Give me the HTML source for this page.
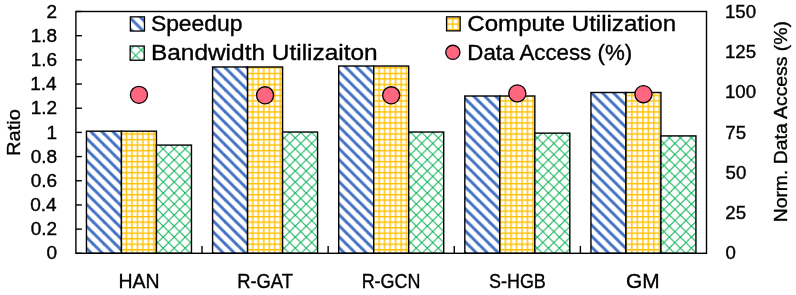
<!DOCTYPE html>
<html><head><meta charset="utf-8"><style>
html,body{margin:0;padding:0;background:#fff;}
body{width:796px;height:295px;overflow:hidden;}
svg{display:block;}
text{font-family:"Liberation Sans",sans-serif;fill:#000;stroke:#000;stroke-width:0.35px;}
svg{will-change:transform;}
</style></head><body>
<svg width="796" height="295" viewBox="0 0 796 295">
<defs><pattern id="pS" patternUnits="userSpaceOnUse" x="4.020" y="0.690" width="11.0064" height="11.0064"><rect width="11.0064" height="11.0064" fill="#fff"/><g fill="#4472C4"><polygon points="-14.457,-1.376 -10.307,-1.376 3.451,12.382 -0.699,12.382"/><polygon points="-3.451,-1.376 0.699,-1.376 14.457,12.382 10.307,12.382"/><polygon points="7.556,-1.376 11.706,-1.376 25.464,12.382 21.314,12.382"/></g></pattern>
<pattern id="pC" patternUnits="userSpaceOnUse" x="4.850" y="1.090" width="10.9888" height="11.0200"><rect width="10.9888" height="11.0200" fill="#fff"/><g fill="#FFC000"><rect x="-0.013" y="-1" width="1.400" height="13.020"/><rect x="-1" y="-0.011" width="12.989" height="1.400"/><rect x="5.481" y="-1" width="1.400" height="13.020"/><rect x="-1" y="5.499" width="12.989" height="1.400"/><rect x="10.976" y="-1" width="1.400" height="13.020"/><rect x="-1" y="11.009" width="12.989" height="1.400"/></g></pattern>
<pattern id="pB" patternUnits="userSpaceOnUse" x="4.260" y="0.860" width="11.0056" height="11.0200"><rect width="11.0056" height="11.0200" fill="#fff"/><g stroke="#00B050" stroke-width="0.950"><line x1="-13.757" y1="-2.755" x2="2.751" y2="13.775"/><line x1="1.376" y1="-2.755" x2="-15.133" y2="13.775"/><line x1="-2.751" y1="-2.755" x2="13.757" y2="13.775"/><line x1="12.381" y1="-2.755" x2="-4.127" y2="13.775"/><line x1="8.254" y1="-2.755" x2="24.763" y2="13.775"/><line x1="23.387" y1="-2.755" x2="6.878" y2="13.775"/><line x1="19.260" y1="-2.755" x2="35.768" y2="13.775"/><line x1="34.392" y1="-2.755" x2="17.884" y2="13.775"/></g></pattern>
<pattern id="l0" patternUnits="userSpaceOnUse" x="129.500" y="17.200" width="10.9888" height="11.0200"><rect width="10.9888" height="11.0200" fill="#fff"/><g fill="#4472C4"><polygon points="-14.437,-1.377 -10.287,-1.377 3.449,12.397 -0.701,12.397"/><polygon points="-3.449,-1.377 0.701,-1.377 14.437,12.397 10.287,12.397"/><polygon points="7.540,-1.377 11.690,-1.377 25.426,12.397 21.276,12.397"/></g></pattern>
<pattern id="l1" patternUnits="userSpaceOnUse" x="446.600" y="17.950" width="10.9888" height="11.0200"><rect width="10.9888" height="11.0200" fill="#fff"/><g fill="#FFC000"><rect x="-0.013" y="-1" width="1.400" height="13.020"/><rect x="-1" y="-0.011" width="12.989" height="1.400"/><rect x="5.481" y="-1" width="1.400" height="13.020"/><rect x="-1" y="5.499" width="12.989" height="1.400"/><rect x="10.976" y="-1" width="1.400" height="13.020"/><rect x="-1" y="11.009" width="12.989" height="1.400"/></g></pattern>
<pattern id="l2" patternUnits="userSpaceOnUse" x="136.400" y="45.200" width="10.9888" height="11.0200"><rect width="10.9888" height="11.0200" fill="#fff"/><g stroke="#00B050" stroke-width="0.950"><line x1="-13.736" y1="-2.755" x2="2.747" y2="13.775"/><line x1="1.374" y1="-2.755" x2="-15.110" y2="13.775"/><line x1="-2.747" y1="-2.755" x2="13.736" y2="13.775"/><line x1="12.362" y1="-2.755" x2="-4.121" y2="13.775"/><line x1="8.242" y1="-2.755" x2="24.725" y2="13.775"/><line x1="23.351" y1="-2.755" x2="6.868" y2="13.775"/><line x1="19.230" y1="-2.755" x2="35.714" y2="13.775"/><line x1="34.340" y1="-2.755" x2="17.857" y2="13.775"/></g></pattern></defs>
<rect width="796" height="295" fill="#fff"/>
<rect x="86.46" y="131.19" width="35" height="122.11" fill="url(#pS)" stroke="#000" stroke-width="1.40"/>
<rect x="121.46" y="131.19" width="35" height="122.11" fill="url(#pC)" stroke="#000" stroke-width="1.40"/>
<rect x="156.46" y="145.09" width="35" height="108.21" fill="url(#pB)" stroke="#000" stroke-width="1.40"/>
<rect x="212.58" y="66.99" width="35" height="186.31" fill="url(#pS)" stroke="#000" stroke-width="1.40"/>
<rect x="247.58" y="66.99" width="35" height="186.31" fill="url(#pC)" stroke="#000" stroke-width="1.40"/>
<rect x="282.58" y="132.04" width="35" height="121.26" fill="url(#pB)" stroke="#000" stroke-width="1.40"/>
<rect x="338.70" y="66.03" width="35" height="187.27" fill="url(#pS)" stroke="#000" stroke-width="1.40"/>
<rect x="373.70" y="66.03" width="35" height="187.27" fill="url(#pC)" stroke="#000" stroke-width="1.40"/>
<rect x="408.70" y="132.04" width="35" height="121.26" fill="url(#pB)" stroke="#000" stroke-width="1.40"/>
<rect x="464.82" y="96.01" width="35" height="157.29" fill="url(#pS)" stroke="#000" stroke-width="1.40"/>
<rect x="499.82" y="96.01" width="35" height="157.29" fill="url(#pC)" stroke="#000" stroke-width="1.40"/>
<rect x="534.82" y="133.13" width="35" height="120.17" fill="url(#pB)" stroke="#000" stroke-width="1.40"/>
<rect x="590.94" y="92.50" width="35" height="160.80" fill="url(#pS)" stroke="#000" stroke-width="1.40"/>
<rect x="625.94" y="92.50" width="35" height="160.80" fill="url(#pC)" stroke="#000" stroke-width="1.40"/>
<rect x="660.94" y="135.91" width="35" height="117.39" fill="url(#pB)" stroke="#000" stroke-width="1.40"/>
<rect x="75.90" y="11.50" width="630.60" height="241.80" fill="none" stroke="#000" stroke-width="1.40"/>
<line x1="75.90" y1="253.30" x2="81.90" y2="253.30" stroke="#000" stroke-width="1.40"/>
<line x1="75.90" y1="229.12" x2="81.90" y2="229.12" stroke="#000" stroke-width="1.40"/>
<line x1="75.90" y1="204.94" x2="81.90" y2="204.94" stroke="#000" stroke-width="1.40"/>
<line x1="75.90" y1="180.76" x2="81.90" y2="180.76" stroke="#000" stroke-width="1.40"/>
<line x1="75.90" y1="156.58" x2="81.90" y2="156.58" stroke="#000" stroke-width="1.40"/>
<line x1="75.90" y1="132.40" x2="81.90" y2="132.40" stroke="#000" stroke-width="1.40"/>
<line x1="75.90" y1="108.22" x2="81.90" y2="108.22" stroke="#000" stroke-width="1.40"/>
<line x1="75.90" y1="84.04" x2="81.90" y2="84.04" stroke="#000" stroke-width="1.40"/>
<line x1="75.90" y1="59.86" x2="81.90" y2="59.86" stroke="#000" stroke-width="1.40"/>
<line x1="75.90" y1="35.68" x2="81.90" y2="35.68" stroke="#000" stroke-width="1.40"/>
<line x1="75.90" y1="11.50" x2="81.90" y2="11.50" stroke="#000" stroke-width="1.40"/>
<line x1="202.02" y1="253.30" x2="202.02" y2="245.90" stroke="#000" stroke-width="1.40"/>
<line x1="328.14" y1="253.30" x2="328.14" y2="245.90" stroke="#000" stroke-width="1.40"/>
<line x1="454.26" y1="253.30" x2="454.26" y2="245.90" stroke="#000" stroke-width="1.40"/>
<line x1="580.38" y1="253.30" x2="580.38" y2="245.90" stroke="#000" stroke-width="1.40"/>
<circle cx="138.96" cy="94.84" r="8.55" fill="#FF6680" stroke="#000" stroke-width="1.3"/>
<circle cx="265.08" cy="95.32" r="8.55" fill="#FF6680" stroke="#000" stroke-width="1.3"/>
<circle cx="391.20" cy="95.32" r="8.55" fill="#FF6680" stroke="#000" stroke-width="1.3"/>
<circle cx="517.32" cy="93.39" r="8.55" fill="#FF6680" stroke="#000" stroke-width="1.3"/>
<circle cx="643.44" cy="94.20" r="8.55" fill="#FF6680" stroke="#000" stroke-width="1.3"/>
<text transform="translate(46.42,259.46) scale(1.0800,1)" font-size="17.60">0</text>
<text transform="translate(30.64,235.28) scale(1.0800,1)" font-size="17.60">0.2</text>
<text transform="translate(30.26,211.10) scale(1.0800,1)" font-size="17.60">0.4</text>
<text transform="translate(30.64,186.92) scale(1.0800,1)" font-size="17.60">0.6</text>
<text transform="translate(30.64,162.74) scale(1.0800,1)" font-size="17.60">0.8</text>
<text transform="translate(46.61,138.56) scale(1.0800,1)" font-size="17.60">1</text>
<text transform="translate(30.64,114.38) scale(1.0800,1)" font-size="17.60">1.2</text>
<text transform="translate(30.26,90.20) scale(1.0800,1)" font-size="17.60">1.4</text>
<text transform="translate(30.64,66.02) scale(1.0800,1)" font-size="17.60">1.6</text>
<text transform="translate(30.64,41.84) scale(1.0800,1)" font-size="17.60">1.8</text>
<text transform="translate(46.61,17.66) scale(1.0800,1)" font-size="17.60">2</text>
<text transform="translate(725.55,259.46) scale(1.0600,1)" font-size="17.60">0</text>
<text transform="translate(725.37,219.16) scale(1.0600,1)" font-size="17.60">25</text>
<text transform="translate(725.55,178.86) scale(1.0600,1)" font-size="17.60">50</text>
<text transform="translate(725.37,138.56) scale(1.0600,1)" font-size="17.60">75</text>
<text transform="translate(724.99,98.26) scale(1.0600,1)" font-size="17.60">100</text>
<text transform="translate(724.99,57.96) scale(1.0600,1)" font-size="17.60">125</text>
<text transform="translate(724.99,17.66) scale(1.0600,1)" font-size="17.60">150</text>
<text transform="translate(118.54,288.40) scale(0.9601,1)" font-size="20.30">HAN</text>
<text transform="translate(237.13,288.40) scale(0.9048,1)" font-size="20.30">R-GAT</text>
<text transform="translate(361.66,288.40) scale(0.8842,1)" font-size="20.30">R-GCN</text>
<text transform="translate(488.98,288.40) scale(0.8845,1)" font-size="20.30">S-HGB</text>
<text transform="translate(626.06,288.40) scale(1.0285,1)" font-size="20.30">GM</text>
<text transform="translate(19.50,156.01) rotate(-90) scale(1.0884,1)" font-size="18.50">Ratio</text>
<text transform="translate(786.50,222.35) rotate(-90) scale(1.0479,1)" font-size="18.50">Norm. Data Access (%)</text>
<rect x="130.35" y="16.85" width="14.10" height="14.20" fill="url(#l0)" stroke="#000" stroke-width="1.3"/>
<rect x="446.55" y="16.85" width="13.60" height="14.00" fill="url(#l1)" stroke="#000" stroke-width="1.3"/>
<rect x="130.15" y="46.05" width="14.10" height="14.20" fill="url(#l2)" stroke="#000" stroke-width="1.3"/>
<circle cx="452.85" cy="52.35" r="7.1" fill="#FF6680" stroke="#000" stroke-width="1.3"/>
<text transform="translate(150.88,30.90) scale(1.0505,1)" font-size="21.80">Speedup</text>
<text transform="translate(150.94,59.90) scale(1.1212,1)" font-size="21.80">Bandwidth Utilizaiton</text>
<text transform="translate(467.29,31.30) scale(1.1055,1)" font-size="21.80">Compute Utilization</text>
<text transform="translate(467.31,59.80) scale(1.0237,1)" font-size="21.80">Data Access (%)</text>
</svg>
</body></html>
